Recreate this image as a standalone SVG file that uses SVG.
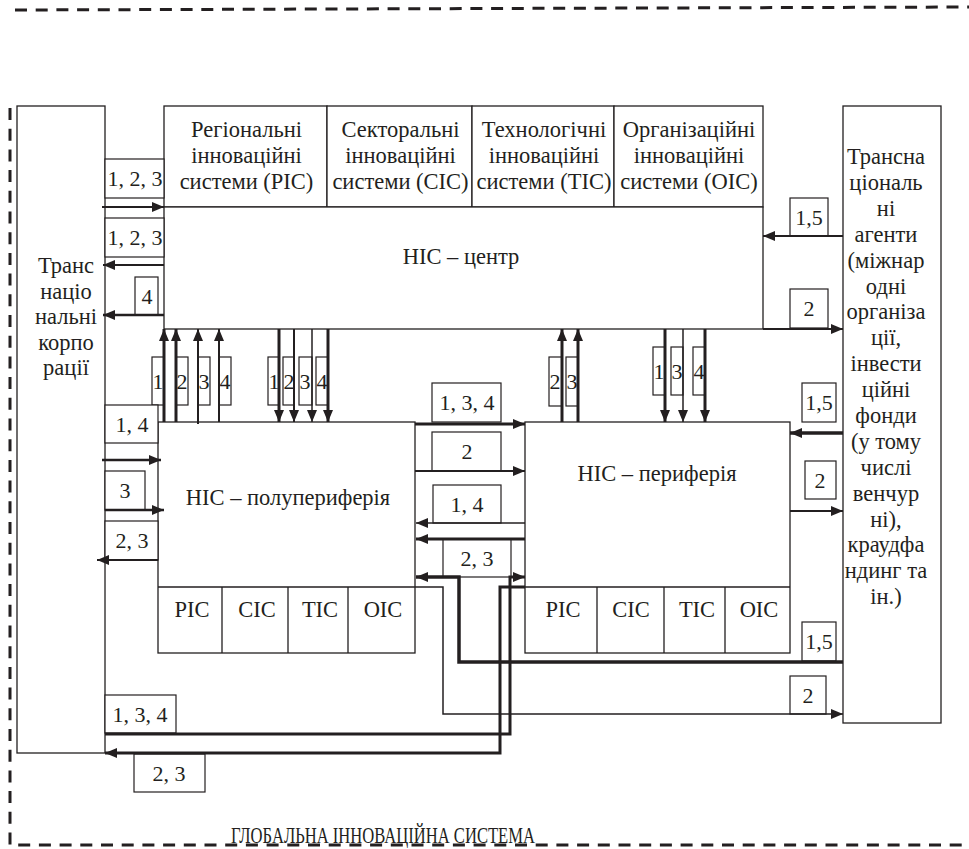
<svg xmlns="http://www.w3.org/2000/svg" width="969" height="849" viewBox="0 0 969 849">
<style>
.b{fill:#fff;stroke:#231f20;stroke-width:1.3}
.l{fill:#fff;stroke:#231f20;stroke-width:1.2}
.t{font-family:'Liberation Serif','Times New Roman',serif;font-size:22.5px;fill:#231f20}
.s{font-family:'Liberation Serif','Times New Roman',serif;font-size:22px;fill:#231f20;text-anchor:middle}
.c{text-anchor:middle}
.a{fill:none;stroke:#231f20;marker-end:url(#ah)}
.d{fill:none;stroke:#231f20;stroke-width:3;stroke-dasharray:12 8.7}
</style>
<defs>
<marker id="ah" viewBox="0 0 12 10" refX="12" refY="5" markerWidth="12" markerHeight="10" markerUnits="userSpaceOnUse" orient="auto"><path d="M0,0 L12,5 L0,10 Z" fill="#231f20"/></marker>
</defs>
<rect width="969" height="849" fill="#fff"/>
<g id="border">
<path class="d" d="M15,10 L969,7"/>
<path class="d" d="M10,108 V845 H969"/>
<text class="t" x="231" y="843" style="font-size:23px" textLength="304" lengthAdjust="spacingAndGlyphs">ГЛОБАЛЬНА ІННОВАЦІЙНА СИСТЕМА</text>
</g>
<g id="tnc">
<rect class="b" x="17" y="106" width="88" height="647"/>
<text class="t c" x="66" y="273"><tspan x="66">Транс</tspan><tspan x="66" dy="25.5">націо</tspan><tspan x="66" dy="25.5">нальні</tspan><tspan x="66" dy="25.5">корпо</tspan><tspan x="66" dy="25.5">рації</tspan></text>
</g>
<g id="ris">
<rect class="b" x="164" y="106" width="163" height="101"/>
<text class="t c" x="246.5" y="137"><tspan x="246.5">Регіональні</tspan><tspan x="246.5" dy="26">інноваційні</tspan><tspan x="246.5" dy="26">системи (РІС)</tspan></text>
</g>
<g id="sis">
<rect class="b" x="327" y="106" width="145" height="101"/>
<text class="t c" x="400.5" y="137"><tspan x="400.5">Секторальні</tspan><tspan x="400.5" dy="26">інноваційні</tspan><tspan x="400.5" dy="26">системи (СІС)</tspan></text>
</g>
<g id="tis">
<rect class="b" x="472" y="106" width="142" height="101"/>
<text class="t c" x="544" y="137"><tspan x="544">Технологічні</tspan><tspan x="544" dy="26">інноваційні</tspan><tspan x="544" dy="26">системи (ТІС)</tspan></text>
</g>
<g id="ois">
<rect class="b" x="614" y="106" width="149" height="101"/>
<text class="t c" x="689" y="137"><tspan x="689">Організаційні</tspan><tspan x="689" dy="26">інноваційні</tspan><tspan x="689" dy="26">системи (ОІС)</tspan></text>
</g>
<g id="center">
<rect class="b" x="164" y="207" width="599" height="122"/>
<text class="t c" x="461" y="264">НІС – центр</text>
</g>
<g id="agents">
<rect class="b" x="843" y="106" width="98" height="617"/>
<text class="t c" x="886" y="164"><tspan x="886">Трансна</tspan><tspan x="886" dy="25.9">ціональ</tspan><tspan x="886" dy="25.9">ні</tspan><tspan x="886" dy="25.9">агенти</tspan><tspan x="886" dy="25.9">(міжнар</tspan><tspan x="886" dy="25.9">одні</tspan><tspan x="886" dy="25.9">організа</tspan><tspan x="886" dy="25.9">ції,</tspan><tspan x="886" dy="25.9">інвести</tspan><tspan x="886" dy="25.9">ційні</tspan><tspan x="886" dy="25.9">фонди</tspan><tspan x="886" dy="25.9">(у тому</tspan><tspan x="886" dy="25.9">числі</tspan><tspan x="886" dy="25.9">венчур</tspan><tspan x="886" dy="25.9">ні),</tspan><tspan x="886" dy="25.9">краудфа</tspan><tspan x="886" dy="25.9">ндинг та</tspan><tspan x="886" dy="25.9">ін.)</tspan></text>
</g>
<g id="semiperiphery">
<rect class="b" x="158" y="422" width="257" height="231"/>
<path fill="none" stroke="#231f20" stroke-width="1.3" d="M158,587 H415 M222,587 V653 M288,587 V653 M348,587 V653"/>
<text class="t c" x="288" y="505">НІС – полупериферія</text>
<text class="t c" x="192" y="617">РІС</text>
<text class="t c" x="257" y="617">СІС</text>
<text class="t c" x="320" y="617">ТІС</text>
<text class="t c" x="383" y="617">ОІС</text>
</g>
<g id="periphery">
<rect class="b" x="525" y="422" width="265" height="231"/>
<path fill="none" stroke="#231f20" stroke-width="1.3" d="M525,587 H790 M597,587 V653 M664,587 V653 M725,587 V653"/>
<text class="t c" x="657" y="481">НІС – периферія</text>
<text class="t c" x="563" y="617">РІС</text>
<text class="t c" x="631" y="617">СІС</text>
<text class="t c" x="697" y="617">ТІС</text>
<text class="t c" x="759" y="617">ОІС</text>
</g>
<g id="label-boxes">
<rect class="l" x="105" y="159" width="59" height="39"/>
<rect class="l" x="105" y="218" width="59" height="39"/>
<rect class="l" x="135" y="277" width="23" height="38"/>
<rect class="l" x="152" y="357" width="12" height="48"/>
<rect class="l" x="176" y="357" width="12" height="48"/>
<rect class="l" x="198" y="357" width="12" height="48"/>
<rect class="l" x="219" y="357" width="12" height="48"/>
<rect class="l" x="268" y="357" width="11" height="48"/>
<rect class="l" x="283" y="357" width="11" height="48"/>
<rect class="l" x="299" y="357" width="13" height="48"/>
<rect class="l" x="316" y="357" width="12" height="48"/>
<rect class="l" x="549" y="357" width="13" height="49"/>
<rect class="l" x="566" y="357" width="12" height="49"/>
<rect class="l" x="653" y="347" width="12" height="48"/>
<rect class="l" x="671" y="347" width="12" height="48"/>
<rect class="l" x="693" y="347" width="12" height="48"/>
<rect class="l" x="432" y="383" width="69" height="39"/>
<rect class="l" x="432" y="432" width="69" height="39"/>
<rect class="l" x="433" y="485" width="68" height="38"/>
<rect class="l" x="443" y="539" width="68" height="38"/>
<rect class="l" x="105" y="405" width="53" height="38"/>
<rect class="l" x="105" y="471" width="40" height="39"/>
<rect class="l" x="105" y="521" width="53" height="39"/>
<rect class="l" x="790" y="198" width="38" height="38"/>
<rect class="l" x="790" y="289" width="38" height="39"/>
<rect class="l" x="802" y="383" width="34" height="39"/>
<rect class="l" x="805" y="461" width="31" height="38"/>
<rect class="l" x="802" y="622" width="34" height="39"/>
<rect class="l" x="790" y="676" width="36" height="38"/>
<rect class="l" x="105" y="695" width="71" height="38"/>
<rect class="l" x="134" y="754" width="71" height="38"/>
</g>
<g id="connectors">
<path class="a" stroke-width="2" d="M102,207 H164"/>
<path class="a" stroke-width="2" d="M164,265 H103"/>
<path class="a" stroke-width="2.5" d="M164,315 H103"/>
<path class="a" stroke-width="3" d="M164,422 V329"/>
<path class="a" stroke-width="3" d="M176,422 V329"/>
<path class="a" stroke-width="2" d="M198,424 V329"/>
<path class="a" stroke-width="2" d="M219,422 V329"/>
<path class="a" stroke-width="3" d="M279,329 V422"/>
<path class="a" stroke-width="2" d="M294,329 V422"/>
<path class="a" stroke-width="1.5" d="M312,329 V422"/>
<path class="a" stroke-width="3" d="M328,329 V422"/>
<path class="a" stroke-width="3" d="M562,422 V329"/>
<path class="a" stroke-width="3" d="M578,422 V329"/>
<path class="a" stroke-width="3" d="M665,329 V422"/>
<path class="a" stroke-width="1.5" d="M683,329 V422"/>
<path class="a" stroke-width="3" d="M705,329 V422"/>
<path class="a" stroke-width="3" d="M415,424 H525"/>
<path class="a" stroke-width="2" d="M415,471 H525"/>
<path class="a" stroke-width="1.5" d="M525,523 H416"/>
<path class="a" stroke-width="3" d="M525,539 H416"/>
<path class="a" stroke-width="3.5" d="M843,662 H459 V577 H416"/>
<path class="a" stroke-width="3" d="M105,734 H510 V577 H525"/>
<path class="a" stroke-width="3" d="M525,587 H500 V753 H105"/>
<path class="a" stroke-width="1.5" d="M415,587 H443 V714 H843"/>
<path class="a" stroke-width="2" d="M843,236 H763"/>
<path class="a" stroke-width="2" d="M763,329 H843"/>
<path class="a" stroke-width="3.5" d="M843,433 H790"/>
<path class="a" stroke-width="2" d="M790,511 H843"/>
<path class="a" stroke-width="2.5" d="M102,460 H161"/>
<path class="a" stroke-width="2.5" d="M105,510 H164"/>
<path class="a" stroke-width="2" d="M158,560 H97"/>
</g>
<g id="labels">
<text class="s" x="135" y="186">1, 2, 3</text>
<text class="s" x="135" y="245">1, 2, 3</text>
<text class="s" x="147" y="304">4</text>
<text class="s" x="158" y="389">1</text>
<text class="s" x="182" y="389">2</text>
<text class="s" x="204" y="389">3</text>
<text class="s" x="225" y="389">4</text>
<text class="s" x="274" y="389">1</text>
<text class="s" x="289" y="389">2</text>
<text class="s" x="305" y="389">3</text>
<text class="s" x="322" y="389">4</text>
<text class="s" x="555" y="389">2</text>
<text class="s" x="572" y="389">3</text>
<text class="s" x="659" y="379">1</text>
<text class="s" x="677" y="379">3</text>
<text class="s" x="699" y="379">4</text>
<text class="s" x="467" y="410">1, 3, 4</text>
<text class="s" x="467" y="459">2</text>
<text class="s" x="467" y="512">1, 4</text>
<text class="s" x="477" y="566">2, 3</text>
<text class="s" x="132" y="432">1, 4</text>
<text class="s" x="125" y="498">3</text>
<text class="s" x="132" y="548">2, 3</text>
<text class="s" x="809" y="225">1,5</text>
<text class="s" x="809" y="316">2</text>
<text class="s" x="819" y="410">1,5</text>
<text class="s" x="820" y="488">2</text>
<text class="s" x="819" y="649">1,5</text>
<text class="s" x="808" y="703">2</text>
<text class="s" x="140" y="722">1, 3, 4</text>
<text class="s" x="169" y="781">2, 3</text>
</g>
</svg>
